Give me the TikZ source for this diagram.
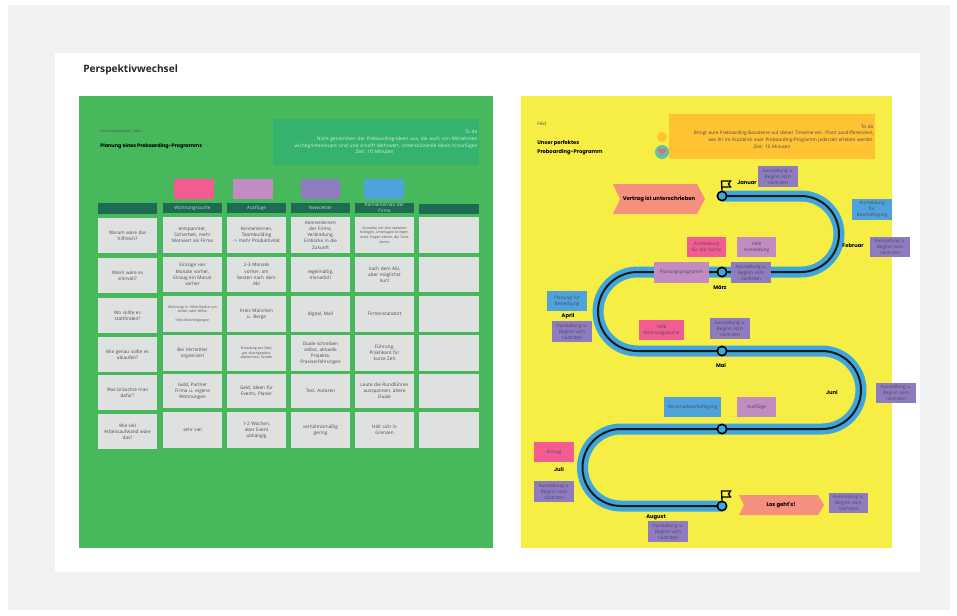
\documentclass[tikz,border=0pt]{standalone}
\usepackage{fontspec}
\setmainfont{Open Sans}
\newfontfamily\hand{Poppins}
\definecolor{page}{HTML}{F1F2F4}
\definecolor{panelg}{HTML}{47B85B}
\definecolor{panely}{HTML}{F7EE45}
\definecolor{noteg}{HTML}{34B26E}
\definecolor{head}{HTML}{1C6B52}
\definecolor{cell}{HTML}{DFE0E0}
\definecolor{pinkb}{HTML}{F25C93}
\definecolor{lilac}{HTML}{C28BC2}
\definecolor{viol}{HTML}{8E7BC0}
\definecolor{blueb}{HTML}{4FA3DC}
\definecolor{track}{HTML}{3EA6DB}
\definecolor{orangeb}{HTML}{FFC233}
\definecolor{salmon}{HTML}{F5907E}
\definecolor{tealc}{HTML}{5FC3A0}
\definecolor{txt}{HTML}{4A4A50}
\tikzset{
  x=0.75pt,y=-0.75pt,
  bxbase/.style={inner sep=0pt,outer sep=0pt,align=center,text=txt,font=\fontsize{3.5}{4.6}\selectfont},
  cellbox/.style={bxbase,fill=cell},
  cellsmall/.style={bxbase,fill=cell,font=\fontsize{2.6}{3.5}\selectfont},
  headbox/.style={bxbase,fill=head,text=white!75!head},
  swatch/.style={bxbase},
  pinkbox/.style={bxbase,fill=pinkb},
  lilacbox/.style={bxbase,fill=lilac},
  violbox/.style={bxbase,fill=viol},
  bluebox/.style={bxbase,fill=blueb},
  month/.style={inner sep=0pt,font=\hand\fontsize{3.9}{5}\selectfont\bfseries},
  tracknode/.style={circle,draw=black,line width=1.2pt,minimum size=7pt,inner sep=0pt},
  flagline/.style={draw=black,line width=1pt,line join=miter},
}
\newcommand\bx[7]{%
  \pgfmathsetmacro\cx{(#3+#5)/2}\pgfmathsetmacro\cy{(#4+#6)/2}%
  \pgfmathsetmacro\bw{(#5-#3)*0.75}\pgfmathsetmacro\bh{(#6-#4)*0.75}%
  \pgfmathsetmacro\tw{(#5-#3-3)*0.75}%
  \node[#2,minimum width=\bw pt,minimum height=\bh pt,text width=\tw pt] (#1) at (\cx,\cy) {#7};}
\newcommand\plan{Ausstellung u.\\Beginn vom\\nächsten}
\newcommand\rgap{\hspace*{2pt}}
\begin{document}
\begin{tikzpicture}
\useasboundingbox (0,0) rectangle (957,615);
\fill[white] (0,0) rectangle (957,615);
\fill[page] (8,5) rectangle (950,610);
\fill[white] (55,53) rectangle (920,572);
\node[anchor=west,inner sep=0pt,font=\fontsize{7.6}{9}\selectfont\bfseries,text=black!85] (title) at (83,70) {Perspektivwechsel};
% left panel
\fill[panelg] (79,96) rectangle (493,548);
\node[anchor=west,inner sep=0pt,font=\fontsize{2.7}{3.5}\selectfont,text=black!70] (lsub) at (100,131) {Für Unternehmen / Feld};
\node[anchor=west,inner sep=0pt,font=\hand\fontsize{3.7}{6}\selectfont\bfseries] (ltitle) at (100,146) {Planung eines Preboarding-Programms};
\bx{lnote}{bxbase,fill=noteg,text=white!80!noteg,font=\fontsize{3.6}{4.9}\selectfont}{273}{119}{479}{165}{\raggedleft To do\rgap\\Nicht genommen der Preboarding-Ideen aus, die auch von Mitnehmen\rgap\\wichtig/interessant sind und schafft Mehrwert, Unterstützende Ideen hinzufügen\rgap\\Zeit: 10 Minuten\rgap}
\bx{s1}{swatch,fill=pinkb}{174}{179}{214}{199}{}
\bx{s2}{swatch,fill=lilac}{233}{179}{273}{199}{}
\bx{s3}{swatch,fill=viol}{301}{179}{340}{199}{}
\bx{s4}{swatch,fill=blueb}{364}{179}{404}{199}{}
\bx{h1}{headbox}{98}{203}{157}{214}{}
\bx{h2}{headbox}{163}{203}{222}{213}{Wohnungssuche}
\bx{h3}{headbox}{227}{203}{286}{213}{Ausflüge}
\bx{h4}{headbox}{291}{203}{350}{213}{Newsletter}
\bx{h5}{headbox}{355}{203}{414}{213}{Kennenlernen der\\Firma}
\bx{h6}{headbox}{419}{204}{479}{214}{}
% column 1
\bx{a1}{cellbox}{98}{218}{157}{253}{Warum wäre das\\hilfreich?}
\bx{a2}{cellbox}{98}{258}{157}{293}{Wann wäre es\\sinnvoll?}
\bx{a3}{cellbox}{98}{298}{157}{333}{Wo sollte es\\stattfinden?}
\bx{a4}{cellbox}{98}{337}{157}{372}{Wie genau sollte es\\ablaufen?}
\bx{a5}{cellbox}{98}{375}{157}{410}{Was bräuchte man\\dafür?}
\bx{a6}{cellbox}{98}{414}{157}{449}{Wie viel\\Arbeitsaufwand wäre\\das?}
% column 2
\bx{b1}{cellbox}{163}{217}{222}{253}{entspannter,\\Sicherheit, mehr\\Motiviert als Firma}
\bx{b2}{cellbox}{163}{257}{222}{292}{Einzüge vier\\Monate vorher,\\Einzug ein Monat\\vorher}
\bx{b3}{cellsmall}{163}{296}{222}{332}{Wohnung in 100m Radius um\\Arbeit oder Office\\[3pt]Infos Besichtigungen}
\bx{b4}{cellbox}{163}{335}{222}{371}{Bei Vermittler\\organisiert}
\bx{b5}{cellbox}{163}{374}{222}{408}{Geld, Partner\\Firma u. eigene\\Wohnungen}
\bx{b6}{cellbox}{163}{412}{222}{448}{sehr viel}
% column 3
\bx{c1}{cellbox}{227}{217}{286}{253}{Kennenlernen,\\Teambuilding\\-> mehr Produktivität}
\bx{c2}{cellbox}{227}{257}{286}{292}{2-3 Monate\\vorher, am\\besten nach dem\\Abi}
\bx{c3}{cellbox}{227}{296}{286}{332}{Kreis München\\u. Berge}
\bx{c4}{cellsmall}{227}{335}{286}{371}{Einladung per Mail,\\gut durchgeplant,\\abstimmen, Sender}
\bx{c5}{cellbox}{227}{374}{286}{408}{Geld, Ideen für\\Events, Planer}
\bx{c6}{cellbox}{227}{412}{286}{448}{1-2 Wochen,\\aber Event\\abhängig}
% column 4
\bx{d1}{cellbox}{291}{217}{350}{253}{Kennenlernen\\der Firma,\\Verbindung,\\Einblicke in die\\Zukunft}
\bx{d2}{cellbox}{291}{257}{350}{292}{regelmäßig,\\monatlich}
\bx{d3}{cellbox}{291}{296}{350}{332}{digital, Mail}
\bx{d4}{cellbox}{291}{335}{350}{371}{Duale schreiben\\selbst, aktuelle\\Projekte,\\Praxiserfahrungen}
\bx{d5}{cellbox}{291}{374}{350}{408}{Text, Autoren}
\bx{d6}{cellbox}{291}{412}{350}{448}{verhältnismäßig\\gering}
% column 5
\bx{e1}{cellsmall}{355}{217}{414}{253}{Kontakte mit den späteren\\Kollegen, Unterlagen bringen,\\erste Fragen klären, die Tools\\kenne}
\bx{e2}{cellbox}{355}{257}{414}{292}{nach dem Abi,\\aber möglichst\\kurz}
\bx{e3}{cellbox}{355}{296}{414}{332}{Firmenstandort}
\bx{e4}{cellbox}{355}{335}{414}{371}{Führung,\\Praktikant für\\kurze Zeit}
\bx{e5}{cellbox}{355}{374}{414}{408}{Leute die Rundführen\\ausspannen, ältere\\Duale}
\bx{e6}{cellbox}{355}{412}{414}{448}{Hält sich in\\Grenzen}
% column 6
\bx{f1}{cellbox}{419}{217}{479}{253}{}
\bx{f2}{cellbox}{419}{257}{479}{292}{}
\bx{f3}{cellbox}{419}{296}{479}{332}{}
\bx{f4}{cellbox}{419}{335}{479}{371}{}
\bx{f5}{cellbox}{419}{374}{479}{408}{}
\bx{f6}{cellbox}{419}{412}{479}{448}{}
% right panel
\fill[panely] (521,96) rectangle (892,548);
\node[anchor=west,inner sep=0pt,font=\fontsize{3.4}{4}\selectfont,text=black!70] (rsub) at (537,124) {Feld};
\node[anchor=west,inner sep=0pt,align=left,font=\hand\fontsize{3.9}{6.5}\selectfont\bfseries] (rtitle) at (537,148) {Unser perfektes\\Preboarding-Programm};
\bx{rnote}{bxbase,fill=orangeb,font=\fontsize{3.5}{4.9}\selectfont}{669}{114}{875}{159}{\raggedleft To do\\Bringt eure Preboarding-Bausteine auf dieser Timeline ein. Plant ausdifferenziert,\\wie ihr im Rückblick euer Preboarding-Programm jederzeit erleben werdet.\\Zeit: 15 Minuten}
\fill[orangeb] (662,137) circle[radius=5];
\fill[tealc] (662,152) circle[radius=7];
\fill[pinkb] (662,155) -- (658,150.5) .. controls (658.5,147.5) and (661.5,148) .. (662,150) .. controls (662.5,148) and (665.5,147.5) .. (666,150.5) -- cycle;
% track
\coordinate (tstart) at (722,196);
\coordinate (tend) at (722,506);
\def\trackpath{(tstart) -- (801,196) arc[start angle=-90,end angle=90,radius=38] -- (637.5,272) arc[start angle=-90,end angle=-270,radius=39.5] -- (822,351) arc[start angle=-90,end angle=90,radius=39] -- (621,429) arc[start angle=-90,end angle=-270,radius=38.5] -- (tend)}
\draw[track,line width=8.25pt] \trackpath;
\draw[black!90,line width=1.5pt] \trackpath;
\node[tracknode,fill=track] (m1) at (tstart) {};
\node[tracknode,fill=track] (m2) at (722,272) {};
\node[tracknode,fill=track] (m3) at (722,351) {};
\node[tracknode,fill=track] (m4) at (722,429) {};
\node[tracknode,fill=track] (m5) at (tend) {};
\draw[flagline] (m1.north) -- (721.5,181) -- (730.5,181) -- (728.5,184) -- (730.5,187) -- (721.5,187);
\draw[flagline] (m5.north) -- (721.5,491) -- (730.5,491) -- (728.5,494) -- (730.5,497) -- (721.5,497);
% banners
\fill[salmon] (613,184) -- (697,184) -- (705,199) -- (697,214) -- (613,214) -- (620,199) -- cycle;
\node[inner sep=0pt,font=\hand\fontsize{4}{6}\selectfont\bfseries] (vertrag) at (659,199) {Vertrag ist unterschrieben};
\fill[salmon] (739,495) -- (818,495) -- (824,505) -- (818,515) -- (739,515) -- (744,505) -- cycle;
\node[inner sep=0pt,font=\hand\fontsize{4}{6}\selectfont\bfseries] (los) at (781,505) {Los geht's!};
% months
\node[month] (jan) at (747,183) {Januar};
\node[month] (feb) at (853,246) {Februar};
\node[month] (mar) at (720,288) {März};
\node[month] (apr) at (568,316) {April};
\node[month] (mai) at (721,365) {Mai};
\node[month] (jun) at (832,392) {Juni};
\node[month] (jul) at (559,469) {Juli};
\node[month] (aug) at (656,517) {August};
% purple boxes
\bx{p1}{violbox}{758}{166}{798}{187}{\plan}
\bx{p2}{violbox}{870}{237}{910}{257}{\plan}
\bx{p3}{violbox}{731}{262}{771}{283}{\plan}
\bx{p4}{violbox}{552}{321}{592}{342}{\plan}
\bx{p5}{violbox}{710}{318}{750}{339}{\plan}
\bx{p6}{violbox}{876}{383}{916}{403}{\plan}
\bx{p7}{violbox}{534}{481}{574}{502}{\plan}
\bx{p8}{violbox}{648}{521}{688}{542}{\plan}
\bx{p9}{violbox}{829}{493}{868}{513}{\plan}
% other boxes
\bx{q1}{bluebox}{852}{199}{892}{220}{Anmeldung\\für\\Beschäftigung}
\bx{q2}{bluebox}{547}{291}{587}{311}{Planung für\\Bewerbung}
\bx{q3}{bluebox}{664}{397}{721}{417}{Personalbeschäftigung}
\bx{q4}{pinkbox}{687}{237}{726}{257}{Anmeldung\\für die Suche}
\bx{q5}{lilacbox}{737}{237}{776}{257}{Hilfe\\Anmeldung}
\bx{q6}{lilacbox}{654}{262}{709}{283}{Planungsprogramm}
\bx{q7}{pinkbox}{639}{320}{684}{340}{Hilfe\\Wohnungssuche}
\bx{q8}{lilacbox}{737}{397}{776}{417}{Ausflüge}
\bx{q9}{pinkbox}{534}{442}{574}{462}{Einzug}
\end{tikzpicture}
\end{document}
